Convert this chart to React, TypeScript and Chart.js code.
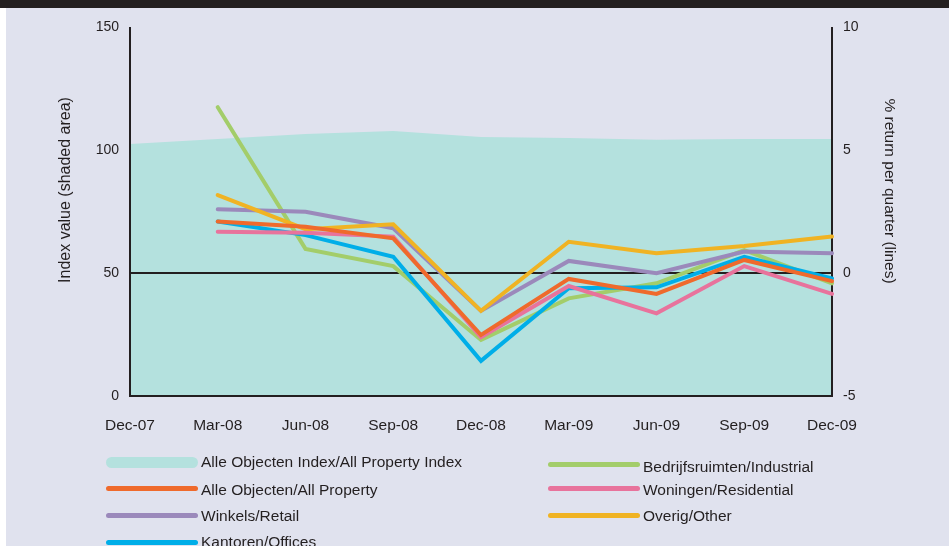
import React, { useEffect, useRef } from 'react';
import { Chart, registerables } from 'chart.js';
Chart.register(...registerables);

const categories = ['Dec-07', 'Mar-08', 'Jun-08', 'Sep-08', 'Dec-08', 'Mar-09', 'Jun-09', 'Sep-09', 'Dec-09'];
const indexValues = [102.4, 104.5, 106.5, 107.7, 105.3, 104.9, 104.2, 104.5, 104.5];
const industrial = [null, 6.74, 0.98, 0.28, -2.72, -1.03, -0.42, 0.93, -0.42];
const allProperty = [null, 2.09, 1.88, 1.41, -2.52, -0.24, -0.85, 0.53, -0.33];
const residential = [null, 1.68, 1.64, 1.48, -2.61, -0.53, -1.64, 0.28, -0.85];
const retail = [null, 2.59, 2.49, 1.82, -1.54, 0.49, -0.01, 0.87, 0.8];
const other = [null, 3.17, 1.78, 1.98, -1.54, 1.27, 0.8, 1.1, 1.48];
const offices = [null, 2.09, 1.54, 0.66, -3.57, -0.62, -0.58, 0.66, -0.22];
const leftTicks = [0, 50, 100, 150];
const rightTicks = [-5, 0, 5, 10];

const TEXT = '#231f20';
const FONT = '"Liberation Sans", Arial, sans-serif';
const AREA = '#b4e1de';

const lineSeries = [
  { label: 'Alle Objecten/All Property', data: allProperty, color: '#ef6a2c' },
  { label: 'Woningen/Residential', data: residential, color: '#e8739c' },
  { label: 'Kantoren/Offices', data: offices, color: '#00aee8' },
  { label: 'Overig/Other', data: other, color: '#f0b323' },
  { label: 'Winkels/Retail', data: retail, color: '#9b89bb' },
  { label: 'Bedrijfsruimten/Industrial', data: industrial, color: '#a3cd6a' },
];

const legendItems = [
  { label: 'Alle Objecten Index/All Property Index', color: AREA, thick: 11, x: 106, y: 462, ty: 462 },
  { label: 'Alle Objecten/All Property', color: '#ef6a2c', thick: 5, x: 106, y: 488, ty: 490 },
  { label: 'Winkels/Retail', color: '#9b89bb', thick: 5, x: 106, y: 515, ty: 516 },
  { label: 'Kantoren/Offices', color: '#00aee8', thick: 5, x: 106, y: 542, ty: 542 },
  { label: 'Bedrijfsruimten/Industrial', color: '#a3cd6a', thick: 5, x: 548, y: 464, ty: 467 },
  { label: 'Woningen/Residential', color: '#e8739c', thick: 5, x: 548, y: 488, ty: 490 },
  { label: 'Overig/Other', color: '#f0b323', thick: 5, x: 548, y: 515, ty: 516 },
];

const AREA_INDEX = lineSeries.length;

const axesPlugin = {
  id: 'axesOverArea',
  afterDatasetDraw(chart: any, args: any) {
    if (args.index !== AREA_INDEX) return;
    const ctx = chart.ctx;
    const { left, right, top, bottom } = chart.chartArea;
    const zeroY = chart.scales.y2.getPixelForValue(0);
    ctx.save();
    ctx.strokeStyle = TEXT;
    ctx.lineWidth = 2;
    ctx.beginPath();
    ctx.moveTo(left, zeroY);
    ctx.lineTo(right, zeroY);
    ctx.moveTo(left, top);
    ctx.lineTo(left, bottom);
    ctx.lineTo(right, bottom);
    ctx.lineTo(right, top);
    ctx.stroke();
    ctx.restore();
  },
  afterDraw(chart: any) {
    const ctx = chart.ctx;
    ctx.save();
    ctx.fillStyle = TEXT;
    ctx.textAlign = 'center';
    ctx.textBaseline = 'middle';
    ctx.save();
    ctx.font = '16px ' + FONT;
    ctx.translate(66, 190);
    ctx.rotate(-Math.PI / 2);
    ctx.fillText('Index value (shaded area)', 0, 0);
    ctx.restore();
    ctx.save();
    ctx.font = '15.5px ' + FONT;
    ctx.translate(889, 191);
    ctx.rotate(Math.PI / 2);
    ctx.fillText('% return per quarter (lines)', 0, 0);
    ctx.restore();
    ctx.restore();
  },
};

export default function App() {
  const ref = useRef<HTMLCanvasElement>(null);
  useEffect(() => {
    const canvas = ref.current!;
    const chart = new Chart(canvas, {
      type: 'line',
      data: {
        labels: categories,
        datasets: [
          ...lineSeries.map((s, i) => ({
            label: s.label,
            data: s.data,
            yAxisID: 'y2',
            borderColor: s.color,
            backgroundColor: s.color,
            borderWidth: 4,
            pointRadius: 0,
            tension: 0,
            fill: false,
            order: i,
            borderCapStyle: 'round' as const,
          })),
          {
            label: 'Alle Objecten Index/All Property Index',
            data: indexValues,
            yAxisID: 'y',
            borderColor: AREA,
            backgroundColor: AREA,
            borderWidth: 0,
            pointRadius: 0,
            tension: 0,
            fill: 'origin',
            order: 20,
          },
        ],
      },
      options: {
        responsive: false,
        animation: false,
        layout: { padding: { top: 27, left: 0, right: 0, bottom: 0 } },
        plugins: { legend: { display: false }, tooltip: { enabled: false } },
        scales: {
          x: {
            offset: false,
            grid: { display: false, drawTicks: false },
            border: { display: false },
            ticks: { padding: 20, color: TEXT, font: { family: FONT, size: 15.5 }, maxRotation: 0, autoSkip: false },
            afterFit: (s: any) => { s.height = 150; },
          },
          y: {
            position: 'left',
            min: 0,
            max: 150,
            afterBuildTicks: (s: any) => { s.ticks = leftTicks.map((v) => ({ value: v })); },
            ticks: { padding: 11, color: TEXT, font: { family: FONT, size: 14 } },
            grid: { display: false, drawTicks: false },
            border: { display: false },
            afterFit: (s: any) => { s.width = 130; },
          },
          y2: {
            position: 'right',
            min: -5,
            max: 10,
            afterBuildTicks: (s: any) => { s.ticks = rightTicks.map((v) => ({ value: v })); },
            ticks: { padding: 11, color: TEXT, font: { family: FONT, size: 14 } },
            grid: { display: false, drawTicks: false },
            border: { display: false },
            afterFit: (s: any) => { s.width = 117; },
          },
        },
      },
      plugins: [axesPlugin],
    });
    return () => chart.destroy();
  }, []);

  return (
    <div style={{ position: 'absolute', left: 0, top: 0, width: 949, height: 546, background: '#e0e2ee', overflow: 'hidden', fontFamily: FONT }}>
      <div style={{ position: 'absolute', left: 0, top: 0, width: 6, height: 546, background: '#ffffff' }} />
      <canvas ref={ref} width={949} height={546} style={{ position: 'absolute', left: 0, top: 0, width: 949, height: 546 }} />
      <div style={{ position: 'absolute', left: 0, top: 0, width: 949, height: 8, background: TEXT }} />
      {legendItems.map((it) => (
        <React.Fragment key={it.label}>
          <div style={{ position: 'absolute', left: it.x, top: it.y - it.thick / 2, width: 92, height: it.thick, borderRadius: it.thick / 2, background: it.color }} />
          <div style={{ position: 'absolute', left: it.x + 95, top: it.ty - 10, height: 20, lineHeight: '20px', fontSize: 15.5, color: TEXT, whiteSpace: 'nowrap' }}>{it.label}</div>
        </React.Fragment>
      ))}
    </div>
  );
}
